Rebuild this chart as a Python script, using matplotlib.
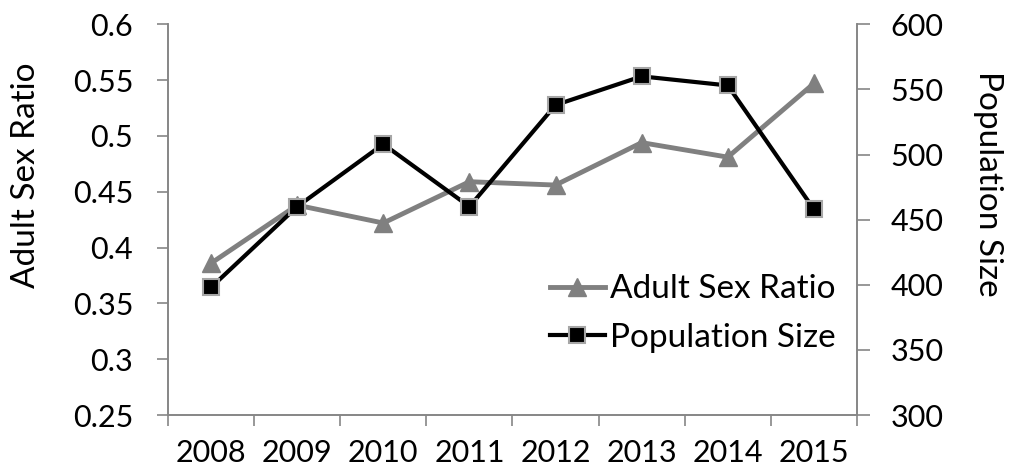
import matplotlib.pyplot as plt
import numpy as np

# Data
years = ['2008', '2009', '2010', '2011', '2012', '2013', '2014', '2015']
sex_ratio = [0.386, 0.438, 0.422, 0.459, 0.456, 0.494, 0.481, 0.547]
pop_size = [398, 460, 508, 460, 538, 560, 553, 458]

plt.rcParams['font.family'] = ['Lato', 'DejaVu Sans']
plt.rcParams['font.size'] = 22

fig, ax = plt.subplots(figsize=(10.1, 4.75), dpi=100)
fig.subplots_adjust(left=0.1663, right=0.8485, top=0.949, bottom=0.126)
ax2 = ax.twinx()

x = np.arange(len(years))
axis_col = '#868686'

l1, = ax.plot(x, sex_ratio, color='#808080', lw=3.5, marker='^', markersize=13,
              markerfacecolor='#808080', markeredgecolor='#808080', label='Adult Sex Ratio')
l2, = ax2.plot(x, pop_size, color='black', lw=3, marker='s', markersize=12,
               markerfacecolor='black', markeredgecolor='#a6a6a6', markeredgewidth=1.5,
               label='Population Size')

ax.set_xlim(-0.5, len(years) - 0.5)
ax.set_ylim(0.25, 0.6)
ax.set_yticks(np.arange(0.25, 0.601, 0.05))
ax.set_yticklabels(['0.25', '0.3', '0.35', '0.4', '0.45', '0.5', '0.55', '0.6'])
ax2.set_ylim(300, 600)
ax2.set_yticks(np.arange(300, 601, 50))

# category labels centred, ticks on category boundaries
ax.set_xticks(x)
ax.set_xticklabels(years)
ax.set_xticks(np.arange(-0.5, len(years), 1), minor=True)
ax.tick_params(axis='x', which='major', length=0, pad=17)
ax.tick_params(axis='x', which='minor', length=8, color=axis_col, width=1.2)
ax.tick_params(axis='y', length=8, color=axis_col, width=1.2, pad=17)
ax2.tick_params(axis='y', length=9, color=axis_col, width=1.2, pad=15)

for a in (ax, ax2):
    a.spines['top'].set_visible(False)
    for s in ('left', 'right', 'bottom'):
        a.spines[s].set_color(axis_col)
        a.spines[s].set_linewidth(1.2)

ax.set_ylabel('Adult Sex Ratio', fontsize=24, va='center')
ax.yaxis.set_label_coords(-142 / 689, 0.614)
ax2.set_ylabel('Population Size', rotation=-90, fontsize=24, va='center')
ax2.yaxis.set_label_coords(1 + 131 / 689, 0.593)

ax2.legend(handles=[l1, l2], loc='center left', bbox_to_anchor=(0.554, 0.26),
           frameon=False, numpoints=1, handlelength=1.65, handletextpad=0.15,
           labelspacing=0.55, borderaxespad=0, borderpad=0, fontsize=24)

plt.savefig('out.png')
plt.close()
